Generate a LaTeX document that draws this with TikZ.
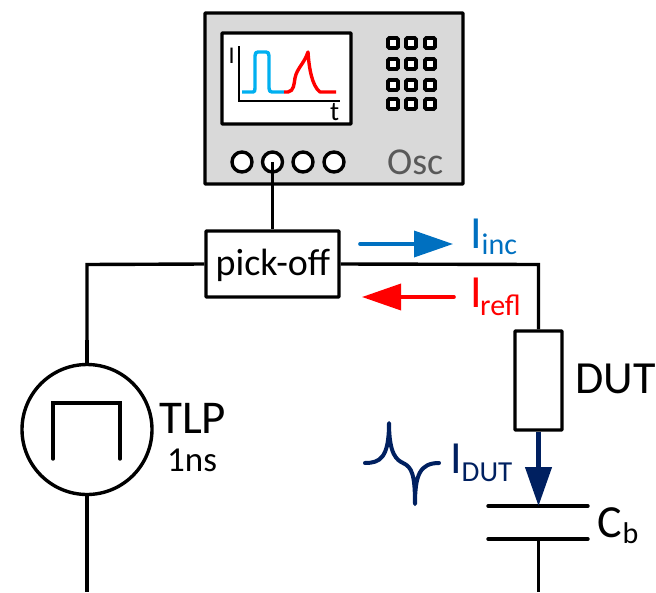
\documentclass[tikz,border=0pt]{standalone}
\usepackage{fontspec}
\setmainfont{Carlito}
\usetikzlibrary{arrows.meta}
\definecolor{incblue}{RGB}{0,112,192}
\definecolor{navy}{RGB}{0,32,96}
\definecolor{oscgray}{RGB}{217,217,217}
\definecolor{trace}{RGB}{0,176,240}
\definecolor{osctxt}{RGB}{89,89,89}
\tikzset{
  wire/.style={line width=3.4pt,line join=miter},
  heavywire/.style={line width=4.4pt},
  box/.style={draw=black,line width=3.4pt,rounded corners=0.8pt,inner sep=0pt,minimum width=#1},
  keybtn/.style={draw=black,fill=white,line width=3.8pt,rounded corners=1.2pt,minimum size=10pt,inner sep=0pt},
  jack/.style={circle,draw=black,fill=white,line width=3.4pt,minimum size=20pt,inner sep=0pt},
  lbl/.style={inner sep=0pt,anchor=base west,font=\fontsize{#1}{#1}\selectfont},
  flow/.style={line width=3.6pt,line cap=round},
  tip/.style={-{Triangle[length=39pt,width=26pt]}}
}
\begin{document}
\begin{tikzpicture}[x=1pt,y=-1pt]
\useasboundingbox (0,0) rectangle (656,592);
% oscilloscope
\node[box=258pt,fill=oscgray,minimum height=171pt] (osc) at (334,98.5) {};
\node[box=129pt,fill=white,minimum height=91pt] (screen) at (286.5,78.5) {};
\foreach \n/\x/\y in {a/393/43,b/411/43,c/430/43,d/393/64,e/411/64,f/430/64,g/393/85,h/411/85,i/430/85,j/393/104,k/411/104,l/430/104}
  \node[keybtn] (k\n) at (\x,\y) {};
\node[jack] (j1) at (242,162) {};
\node[jack] (j2) at (272.5,162) {};
\node[jack] (j3) at (303,162) {};
\node[jack] (j4) at (334,162) {};
\node[lbl=38,text=osctxt] (osclabel) at (387,174) {Osc};
% plot in the screen
\coordinate (ax0) at (239,46);
\coordinate (ax1) at (239,101);
\coordinate (ax2) at (340,101);
\draw[line width=1.2pt] (ax0) -- (ax1) -- (ax2);
\node[lbl=24] (ilabel) at (228.5,63) {I};
\node[lbl=27] (tlabel) at (330,120) {t};
\draw[trace,line width=3.4pt,line join=round] (242,92) -- (253,92) .. controls (254.5,92) and (255,91) .. (255,88) -- (255,56) .. controls (255,53) and (256,52) .. (258,52) -- (266,52) .. controls (268,52) and (269,53) .. (269,56) -- (269,88) .. controls (269,91) and (270,92) .. (272,92) -- (284,92);
\draw[red,line width=3.4pt,line join=round] (284,92) -- (288,92) .. controls (294,91) and (294,84) .. (295,78) .. controls (297,68) and (304,64) .. (308,52) .. controls (309,68) and (312,86) .. (320,92) -- (336,92);
% pick-off
\node[box=133pt,minimum height=66pt,fill=white] (pick) at (272.5,264) {};
\node[lbl=38] (picktxt) at (215.5,275) {pick-off};
% TLP source
\node[circle,draw=black,line width=3.4pt,minimum size=130pt,inner sep=0pt] (tlp) at (87,429.5) {};
\coordinate (p1) at (53,459);
\coordinate (p2) at (53,403);
\coordinate (p3) at (120,403);
\coordinate (p4) at (120,459);
\draw[wire,line cap=round] (p1) -- (p2) -- (p3) -- (p4);
\node[lbl=47] (tlptxt) at (159,433) {TLP};
\node[lbl=35] (nstxt) at (167,471) {1ns};
% DUT
\node[box=47pt,minimum height=99pt] (dut) at (538.5,380.5) {};
\node[lbl=46] (duttxt) at (575,393) {DUT};
% capacitor
\coordinate (c1l) at (488,506);
\coordinate (c1r) at (588,506);
\coordinate (c2l) at (488,539);
\coordinate (c2r) at (588,539);
\coordinate (c1m) at (538.5,506);
\coordinate (c2m) at (538.5,539);
\draw[wire,line cap=round] (c1l) -- (c1r);
\draw[wire,line cap=round] (c2l) -- (c2r);
\node[lbl=46] (cb) at (597,537) {C};
\node[lbl=30] (cbs) at (622.5,543) {b};
% wires
\coordinate (wl) at (87,264.5);
\coordinate (wr) at (538.5,264.5);
\coordinate (tb) at (87,592);
\coordinate (cb2) at (538.5,592);
\coordinate (stubtop) at (87,340);
\coordinate (stubbot) at (87,510);
\draw[wire] (pick.west) -- (wl) -- (tlp.north);
\draw[wire] (pick.east) -- (wr) -- (dut.north);
\draw[wire] (j2.center) -- (pick.north -| j2.center);
\draw[wire] (tlp.south) -- (tb);
\draw[heavywire] (stubtop) -- (tlp.north);
\draw[heavywire] (tlp.south) -- (stubbot);
\draw[wire] (c2m) -- (cb2);
\draw[navy,line width=4.4pt,tip] (dut.south) -- (c1m);
% flows
\coordinate (f1a) at (360,244);
\coordinate (f1b) at (453,244);
\coordinate (f2a) at (454,297);
\coordinate (f2b) at (362,297);
\draw[flow,incblue,tip] (f1a) -- (f1b);
\draw[flow,red,tip] (f2a) -- (f2b);
\node[lbl=46,text=incblue] (iinc) at (470,248.5) {I};
\node[lbl=30,text=incblue] (iincs) at (481.5,254.5) {inc};
\node[lbl=46,text=red] (irefl) at (470,307) {I};
\node[lbl=30,text=red] (irefls) at (480,315) {refl};
\node[lbl=46,text=navy] (idut) at (450,473) {I};
\node[lbl=29,text=navy] (iduts) at (461.5,481) {DUT};
% pulse glyph
\draw[navy,line width=4pt,line cap=round,line join=round] (365,463) .. controls (380,463) and (389,458) .. (389,423) .. controls (389,455) and (397,460) .. (403,463) .. controls (412,467) and (415,475) .. (415,504) .. controls (415,475) and (420,463) .. (439,463);
\end{tikzpicture}
\end{document}
